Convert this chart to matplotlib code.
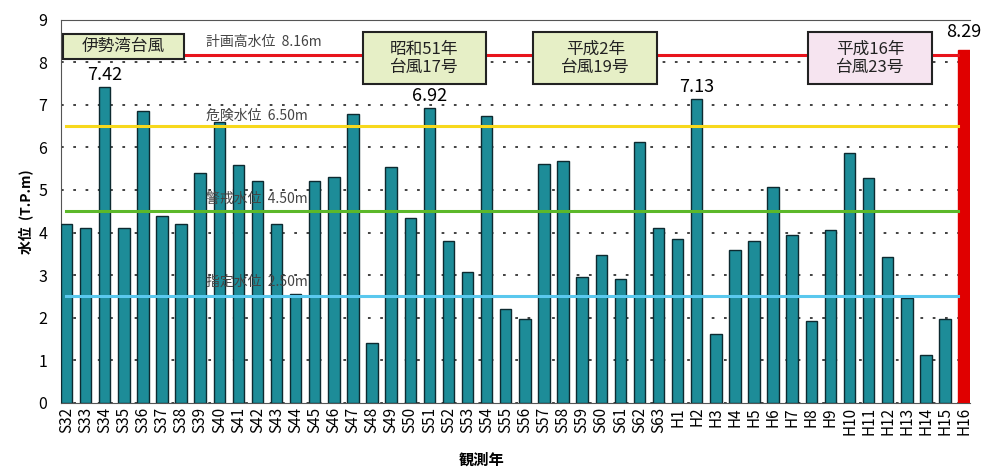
import matplotlib.pyplot as plt
from matplotlib.patches import Rectangle
import numpy as np

plt.rcParams['font.family'] = ['Noto Sans CJK JP', 'DejaVu Sans']

# 観測年
years = ['S32', 'S33', 'S34', 'S35', 'S36', 'S37', 'S38', 'S39', 'S40', 'S41',
         'S42', 'S43', 'S44', 'S45', 'S46', 'S47', 'S48', 'S49', 'S50', 'S51',
         'S52', 'S53', 'S54', 'S55', 'S56', 'S57', 'S58', 'S59', 'S60', 'S61',
         'S62', 'S63', 'H1', 'H2', 'H3', 'H4', 'H5', 'H6', 'H7', 'H8',
         'H9', 'H10', 'H11', 'H12', 'H13', 'H14', 'H15', 'H16']
# 最高水位 (T.P.m)
levels = [4.20, 4.10, 7.42, 4.10, 6.85, 4.40, 4.20, 5.40, 6.60, 5.58,
          5.20, 4.20, 2.55, 5.22, 5.30, 6.78, 1.40, 5.53, 4.35, 6.92,
          3.80, 3.08, 6.75, 2.20, 1.97, 5.60, 5.67, 2.95, 3.48, 2.92,
          6.12, 4.10, 3.86, 7.13, 1.62, 3.60, 3.80, 5.06, 3.95, 1.93,
          4.05, 5.88, 5.27, 3.43, 2.47, 1.13, 1.98, 8.29]
# 基準水位
ref_names = ['計画高水位', '危険水位', '警戒水位', '指定水位']
ref_values = [8.16, 6.50, 4.50, 2.50]
ref_colors = ['#e8141c', '#f7d81c', '#5cb82a', '#5ac8ee']
# 注記する年
marked = ['S34', 'S51', 'H2', 'H16']
typhoons = ['伊勢湾台風', '昭和51年\n台風17号', '平成2年\n台風19号', '平成16年\n台風23号']

fig = plt.figure(figsize=(9.86, 4.7), dpi=100)
ax = fig.add_axes([0.062, 0.143, 0.922, 0.815])

x = np.arange(len(years))
colors = ['#1d8c98'] * (len(years) - 1) + ['#e00000']
edges = ['#0d2a30'] * (len(years) - 1) + ['#e00000']
ax.bar(x, levels, width=0.6, color=colors, edgecolor=edges, linewidth=1.0, zorder=3)

# 基準水位ライン
label_y = [8.47, 6.75, 4.8, 2.85]
for name, v, c, ly in zip(ref_names, ref_values, ref_colors, label_y):
    ax.plot([0.0, 46.7], [v, v], color=c, linewidth=2.2, zorder=4)
    ax.text(7.3, ly, f'{name}  {v:.2f}m', fontsize=10, color='#444444',
            va='center', ha='left', zorder=5)

# 数値ラベル
for yr in marked:
    i = years.index(yr)
    dy = 0.22 if yr == 'H16' else 0.08
    ax.text(i, levels[i] + dy, f'{levels[i]:.2f}', fontsize=13, ha='center', va='bottom', zorder=6)

# 台風ボックス
box_x0 = [-0.16, 15.5, 24.45, 38.85]
box_x1 = [6.13, 21.94, 30.94, 45.34]
box_y0 = [8.07, 7.48, 7.48, 7.48]
box_y1 = [8.66, 8.71, 8.71, 8.71]
fills = ['#e6efc6', '#e6efc6', '#e6efc6', '#f6e4f0']
for x0, x1, y0, y1, t, fc in zip(box_x0, box_x1, box_y0, box_y1, typhoons, fills):
    ax.add_patch(Rectangle((x0, y0), x1 - x0, y1 - y0, facecolor=fc, edgecolor='#222222',
                           linewidth=1.5, zorder=7))
    ax.text((x0 + x1) / 2, (y0 + y1) / 2, t, fontsize=12, ha='center', va='center',
            linespacing=1.1, color='#222222', zorder=8)

ax.set_xlim(-0.28, 47.32)
ax.set_ylim(0, 9)
ax.set_yticks(range(10))
ax.set_xticks(x)
ax.set_xticklabels(years, rotation=90, fontsize=11)
ax.tick_params(axis='x', length=0, pad=3)
ax.tick_params(axis='y', length=0, labelsize=11.5, pad=10)
ax.yaxis.grid(True, linestyle=(0, (1.5, 5.3)), color='#333333', linewidth=1.3, zorder=0)
ax.set_axisbelow(True)
ax.spines['right'].set_visible(False)
for s in ['top', 'left', 'bottom']:
    ax.spines[s].set_color('#555555')

ax.set_ylabel('水位  (T.P.m)', fontsize=10, fontweight='bold')
ax.set_xlabel('観測年', fontsize=11, fontweight='bold', labelpad=0)
ax.xaxis.set_label_coords(0.462, -0.128)

fig.savefig('out.png', dpi=100)
